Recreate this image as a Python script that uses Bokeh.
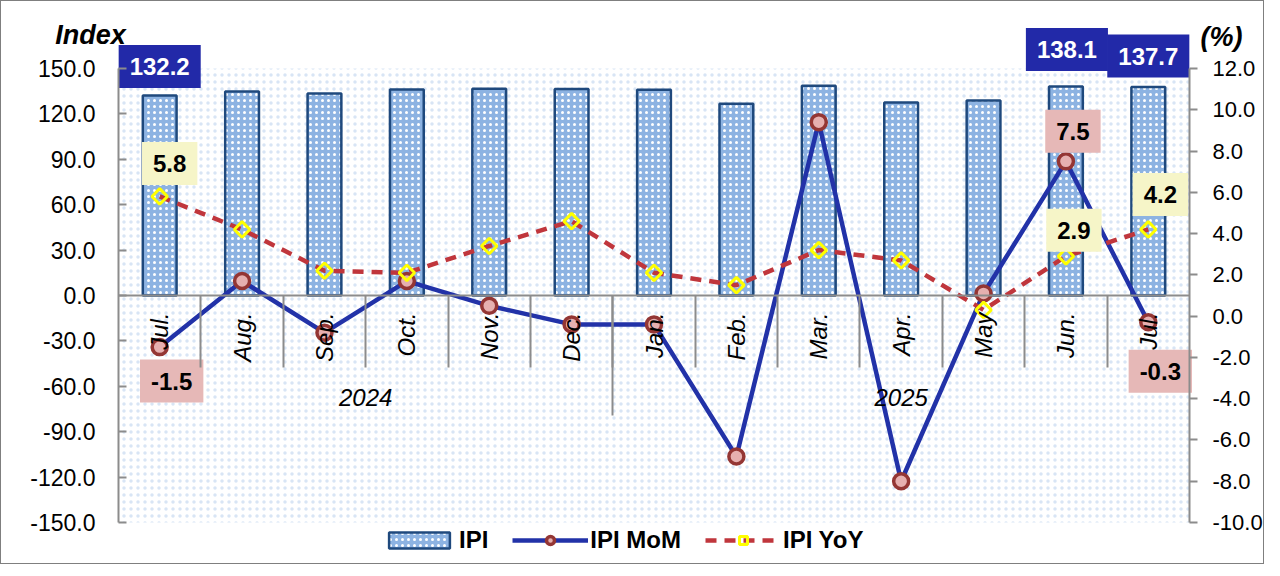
import math
from bokeh.plotting import figure
from bokeh.models import (ColumnDataSource, Range1d, LinearAxis, FixedTicker,
                          NumeralTickFormatter, BoxAnnotation, Label,
                          Legend, LegendItem)
from bokeh.core.properties import value
from bokeh.embed import file_html
from bokeh.resources import INLINE

# ---------------- data ----------------
months = ["Jul.", "Aug.", "Sep.", "Oct.", "Nov.", "Dec.", "Jan.",
          "Feb.", "Mar.", "Apr.", "May", "Jun.", "Jul."]
years = ["2024", "2025"]
year_counts = [6, 7]
ipi = [132.2, 134.8, 133.5, 136.2, 136.6, 136.4, 136.0,
       126.7, 138.6, 127.6, 128.9, 138.1, 137.7]
ipi_mom = [-1.5, 1.7, -0.8, 1.7, 0.5, -0.4, -0.4,
           -6.8, 9.4, -8.0, 1.1, 7.5, -0.3]
ipi_yoy = [5.8, 4.2, 2.2, 2.1, 3.4, 4.6, 2.1,
           1.5, 3.2, 2.7, 0.3, 2.9, 4.2]
left_ticks = list(range(-150, 151, 30))
right_ticks = list(range(-10, 13, 2))
labelled_points = [0, 11, 12]

# label offsets (screen px) for the three labelled points of each series
ipi_lab_dx = [0, 1, 0]
ipi_lab_dy = [-29, -37, -31]
mom_lab_dx = [12, 7, 12]
mom_lab_dy = [34, -30, 49]
yoy_lab_dx = [10, 8, 12]
yoy_lab_dy = [-33, -26, -35]

# ---------------- layout geometry (pixels) ----------------
W, H = 1264, 564
PL, PR, PT, PB = 117, 1188, 67, 521      # plot-area box inside the canvas
L_MIN, L_MAX = -150, 150
R_MIN, R_MAX = -10, 12

FONT = value("Liberation Sans")
n = len(months)
xs = list(range(n))

xu = (PR - PL) / n
x0 = -0.5 - PL / xu
x1 = (n - 0.5) + (W - PR) / xu
lu = (PB - PT) / (L_MAX - L_MIN)
y0 = L_MIN - (H - PB) / lu
y1 = L_MAX + PT / lu
ru = (PB - PT) / (R_MAX - R_MIN)
r0 = R_MIN - (H - PB) / ru
r1 = R_MAX + PT / ru

p = figure(width=W, height=H, x_range=Range1d(x0, x1), y_range=Range1d(y0, y1),
           output_backend="svg", toolbar_location=None,
           x_axis_location=None, y_axis_location=None, min_border=0)
p.extra_y_ranges = {"pct": Range1d(r0, r1)}
p.grid.visible = False
p.outline_line_color = None
p.background_fill_color = "white"
p.border_fill_color = "white"
p.styles = {"border": "1px solid #7f7f7f"}

# dotted plot-area background
p.add_layout(BoxAnnotation(left=-0.5, right=n - 0.5, bottom=L_MIN, top=L_MAX,
                           fill_alpha=0, line_alpha=0, hatch_pattern="dot",
                           hatch_color="#d8e5f5", hatch_scale=7, hatch_weight=1,
                           level="underlay"))

AX_GRAY = "#8c8c8c"

def style_value_axis(ax, size):
    ax.axis_line_color = AX_GRAY
    ax.axis_line_width = 2
    ax.major_tick_line_color = AX_GRAY
    ax.major_tick_line_width = 2
    ax.minor_tick_line_color = None
    ax.major_label_text_font = "Liberation Sans"
    ax.major_label_text_font_size = size
    ax.major_label_text_color = "black"

la = LinearAxis(ticker=FixedTicker(ticks=left_ticks),
                formatter=NumeralTickFormatter(format="0.0"),
                fixed_location=-0.5, bounds=(L_MIN, L_MAX))
style_value_axis(la, "23px")
la.major_tick_in = 8
la.major_tick_out = 0
la.major_label_standoff = 23
p.add_layout(la, "left")

ra = LinearAxis(y_range_name="pct", ticker=FixedTicker(ticks=right_ticks),
                formatter=NumeralTickFormatter(format="0.0"),
                fixed_location=n - 0.5, bounds=(R_MIN, R_MAX))
style_value_axis(ra, "22px")
ra.major_tick_in = 0
ra.major_tick_out = 8
ra.major_label_standoff = 15
p.add_layout(ra, "right")

def bare_axis(ticks, tick_len, line=False):
    ax = LinearAxis(ticker=FixedTicker(ticks=ticks), fixed_location=0,
                    bounds=(-0.5, n - 0.5))
    ax.axis_line_color = AX_GRAY if line else None
    ax.axis_line_width = 2
    ax.major_tick_line_color = AX_GRAY if tick_len > 0 else None
    ax.major_tick_line_width = 2
    ax.major_tick_in = 0
    ax.major_tick_out = tick_len
    ax.minor_tick_line_color = None
    return ax

# category axis line at y = 0 with the month labels
ma = bare_axis(xs, 0, line=True)
ma.major_label_overrides = {i: m for i, m in zip(xs, months)}
ma.major_label_orientation = math.pi / 2
ma.major_label_standoff = 17
ma.major_label_text_font = "Liberation Sans"
ma.major_label_text_font_size = "24px"
ma.major_label_text_font_style = "italic"
ma.major_label_text_color = "black"
p.add_layout(ma, "below")

# separators between months
bounds = [k + 0.5 for k in range(n - 1)]
sa = bare_axis(bounds, 72)
sa.major_label_text_color = None
p.add_layout(sa, "below")

# year labels and the longer separator between the years
year_x = []
group_bounds = []
start = -0.5
for c in year_counts:
    year_x.append(start + c / 2.0)
    start += c
    group_bounds.append(start)
group_bounds = group_bounds[:-1]

ga = bare_axis(group_bounds, 120)
ga.major_label_text_color = None
p.add_layout(ga, "below")

ya = bare_axis(year_x, 0)
ya.major_label_overrides = {yx: yl for yx, yl in zip(year_x, years)}
ya.major_label_standoff = 93
ya.major_label_text_font = "Liberation Sans"
ya.major_label_text_font_size = "24px"
ya.major_label_text_font_style = "italic"
ya.major_label_text_color = "black"
p.add_layout(ya, "below")

# bars
bars = p.vbar(x=xs, top=ipi, bottom=0, width=0.41,
              fill_color="#8db3e2", line_color="#1f497d", line_width=2.5,
              hatch_pattern="dot", hatch_color="white", hatch_scale=6,
              hatch_weight=1.5)

# MoM
mom_line = p.line(xs, ipi_mom, y_range_name="pct", line_color="#2232a8", line_width=4.5)
mom_pts = p.scatter(xs, ipi_mom, y_range_name="pct", marker="circle", size=15,
                    fill_color="#e6b0b0", line_color="#943634", line_width=3.5)

# YoY
yoy_line = p.line(xs, ipi_yoy, y_range_name="pct", line_color="#c0363c",
                  line_width=4.5, line_dash="11 8")
yoy_pts = p.scatter(xs, ipi_yoy, y_range_name="pct", marker="square", angle=math.pi / 4,
                    size=11, fill_alpha=0, line_color="#ffff00", line_width=3)

# data labels
def add_labels(vals, dx, dy, bg, color, y_range_name="default"):
    src = ColumnDataSource(dict(
        x=[xs[i] for i in labelled_points],
        y=[vals[i] for i in labelled_points],
        t=["%.1f" % vals[i] for i in labelled_points],
        dx=dx, dy=dy))
    p.text(x="x", y="y", text="t", x_offset="dx", y_offset="dy", source=src,
           y_range_name=y_range_name,
           text_align="center", text_baseline="middle",
           text_font=FONT, text_font_size=value("24px"), text_font_style="bold",
           text_color=color, background_fill_color=bg, padding=(11, 13))

add_labels(ipi, ipi_lab_dx, ipi_lab_dy, "#2229a8", "white")
add_labels(ipi_mom, mom_lab_dx, mom_lab_dy, "#e6b8b7", "black", "pct")
add_labels(ipi_yoy, yoy_lab_dx, yoy_lab_dy, "#f6f5c8", "black", "pct")

# axis titles
p.add_layout(Label(x=-0.5, y=L_MAX, x_offset=-28, y_offset=34, text="Index",
                   text_align="center", text_baseline="middle",
                   text_font="Liberation Sans", text_font_size="27px",
                   text_font_style="bold italic", text_color="black"))
p.add_layout(Label(x=n - 0.5, y=L_MAX, x_offset=32, y_offset=32, text="(%)",
                   text_align="center", text_baseline="middle",
                   text_font="Liberation Sans", text_font_size="27px",
                   text_font_style="bold italic", text_color="black"))

# legend (inside the canvas-wide frame, under the plot area)
legend = Legend(items=[LegendItem(label="IPI", renderers=[bars]),
                       LegendItem(label="IPI MoM", renderers=[mom_line, mom_pts]),
                       LegendItem(label="IPI YoY", renderers=[yoy_line, yoy_pts])],
                orientation="horizontal", location=(374, H - 559),
                glyph_width=76, glyph_height=20, spacing=24, label_standoff=2,
                padding=6, margin=0,
                label_text_font="Liberation Sans", label_text_font_size="24px",
                label_text_font_style="bold", label_text_color="black",
                border_line_alpha=0, background_fill_alpha=0)
p.add_layout(legend)

open("out.html", "w").write(file_html(p, INLINE))
